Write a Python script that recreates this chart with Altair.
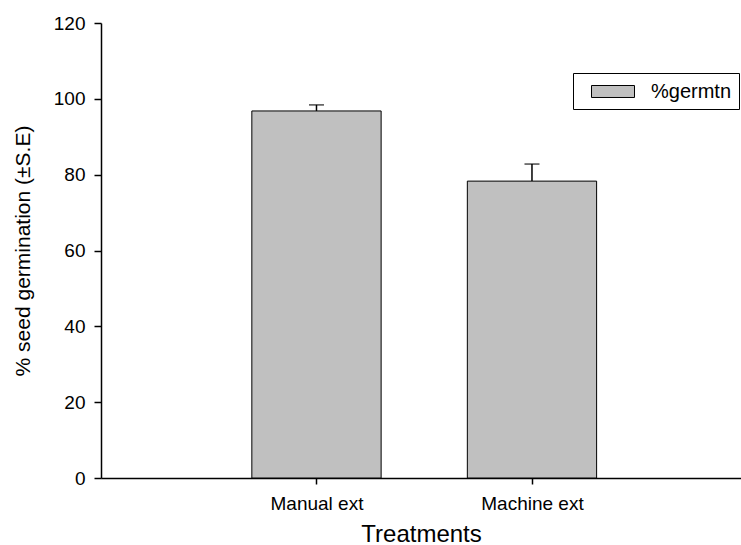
import altair as alt
import pandas as pd

# Germination results per seed extraction method
treatments = ["Manual ext", "Machine ext"]
positions = [1, 2]
germination = [96.8, 78.3]
std_err = [1.6, 4.5]
series = ["%germtn", "%germtn"]

df = pd.DataFrame({
    "treatment": treatments,
    "pos": positions,
    "germ": germination,
    "se": std_err,
    "series": series,
})

font = "Liberation Sans"
label_expr = "datum.value == 1 ? 'Manual ext' : datum.value == 2 ? 'Machine ext' : ''"

x_scale = alt.Scale(domain=[0, 2.97], nice=False, zero=False)
y_scale = alt.Scale(domain=[0, 120], nice=False)

base = alt.Chart(df)

# legend swatch: a wide flat rectangle drawn to the right of the symbol anchor
swatch = "M0,-0.545L3.91,-0.545L3.91,0.545L0,0.545Z"

bars = base.transform_calculate(
    left="datum.pos - 0.3", right="datum.pos + 0.3"
).mark_bar(stroke="black", strokeWidth=1).encode(
    x=alt.X("left:Q", scale=x_scale,
            axis=alt.Axis(values=[1, 2], labelExpr=label_expr, title="Treatments",
                          tickSize=6, labelPadding=10, titlePadding=9,
                          titleFontSize=24)),
    x2="right:Q",
    y=alt.Y("germ:Q", scale=y_scale,
            axis=alt.Axis(values=[0, 20, 40, 60, 80, 100, 120],
                          title="% seed germination (±S.E)", tickSize=7,
                          labelPadding=9, titlePadding=20, titleFontSize=21)),
    y2=alt.datum(0),
    fill=alt.Fill("series:N", scale=alt.Scale(range=["#c0c0c0"]),
                  legend=alt.Legend(title=None, orient="none", legendX=472, legendY=50,
                                    strokeColor="black", padding=7,
                                    symbolType=swatch,
                                    symbolSize=484, symbolStrokeColor="black",
                                    symbolStrokeWidth=1, symbolFillColor="#c0c0c0",
                                    labelFontSize=20, labelFont=font, labelOffset=48,
                                    labelColor="black")),
)

err = base.transform_calculate(
    top="datum.germ + datum.se"
).mark_rule(color="black", strokeWidth=1.5).encode(
    x=alt.X("pos:Q", scale=x_scale),
    y=alt.Y("germ:Q", scale=y_scale),
    y2="top:Q",
)

cap = base.transform_calculate(
    top="datum.germ + datum.se"
).mark_tick(color="black", orient="horizontal", size=15, thickness=1.5).encode(
    x=alt.X("pos:Q", scale=x_scale),
    y=alt.Y("top:Q", scale=y_scale),
)

chart = alt.layer(bars, err, cap).properties(
    width=640, height=455,
    autosize=alt.AutoSizeParams(type="none"),
    padding={"left": 101, "top": 23, "right": 0, "bottom": 67},
    background="white",
).configure_view(stroke=None).configure_axis(
    grid=False, domainColor="black", domainWidth=1.5, tickColor="black", tickWidth=1.5,
    labelFont=font, labelFontSize=19, labelColor="black",
    titleFont=font, titleFontWeight="normal", titleColor="black",
)

chart.save("out.html", embed_options={"renderer": "svg", "actions": False})
